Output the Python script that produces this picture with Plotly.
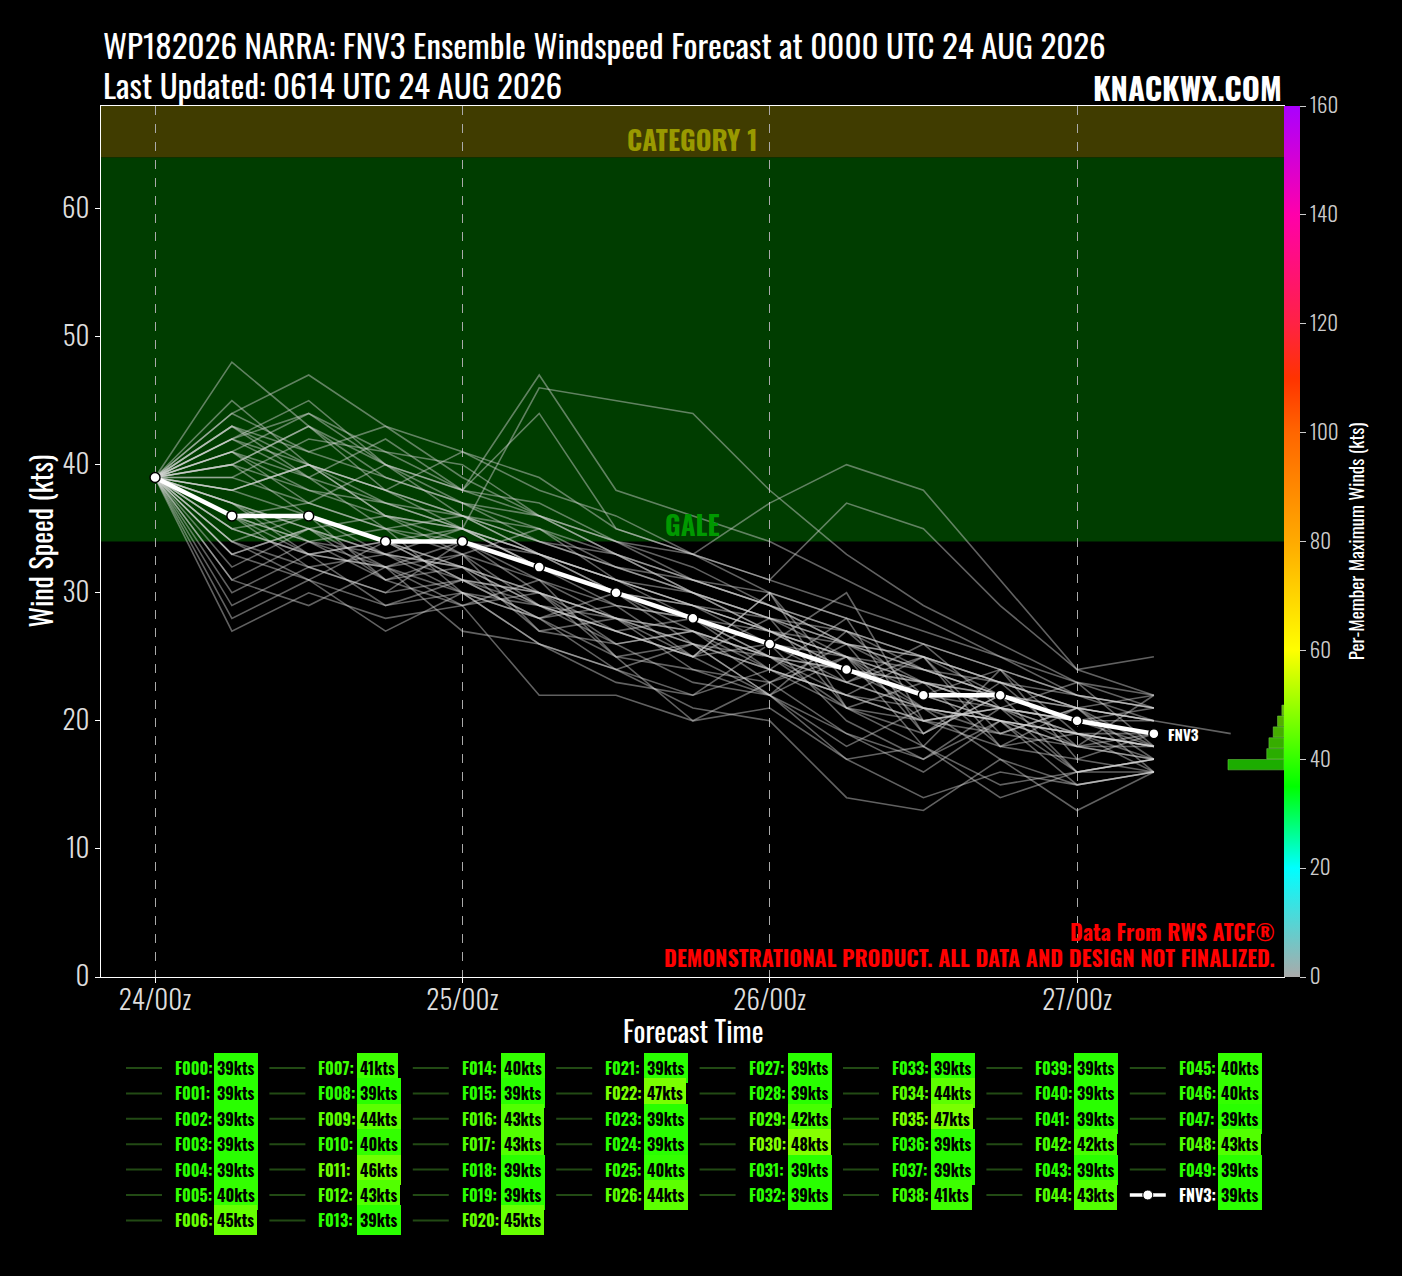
import numpy as np
import plotly.graph_objects as go

# ensemble veri (kts), 6 saatlik adimlar
forecast_hours = [0, 6, 12, 18, 24, 30, 36, 42, 48, 54, 60, 66, 72, 78, 84]
hour_ticks = [0, 24, 48, 72]
hour_labels = ["24/00z", "25/00z", "26/00z", "27/00z"]

fnv3_winds = [39, 36, 36, 34, 34, 32, 30, 28, 26, 24, 22, 22, 20, 19]

member_winds = [
    [39, 35, 33, 34, 31, 29, 27, 28, 24, 22, 20, 21, 18, 17],
    [39, 33, 35, 31, 32, 30, 26, 27, 25, 21, 19, 22, 20, 18],
    [39, 37, 34, 35, 30, 28, 29, 25, 30, 23, 25, 19, 21, 16],
    [39, 31, 34, 32, 33, 27, 28, 24, 23, 25, 20, 18, 17, 19],
    [39, 36, 32, 30, 34, 31, 25, 26, 22, 27, 22, 24, 19, 18],
    [39, 40, 36, 34, 35, 33, 30, 29, 27, 24, 23, 21, 20, 19],
    [39, 45, 40, 38, 36, 34, 32, 30, 28, 26, 25, 23, 21, 20],
    [39, 41, 38, 36, 33, 35, 31, 28, 27, 25, 24, 22, 21, 22],
    [39, 29, 32, 30, 31, 28, 24, 26, 22, 17, 18, 14, 16, 17],
    [39, 44, 41, 43, 39, 36, 34, 31, 29, 26, 24, 22, 20, 19],
    [39, 38, 40, 36, 35, 32, 30, 29, 26, 25, 21, 20, 19, 18],
    [39, 42, 39, 37, 35, 46, 45, 44, 38, 33, 29, 26, 23, 21],
    [39, 43, 39, 35, 36, 33, 31, 29, 28, 25, 22, 21, 20, 21],
    [39, 34, 31, 29, 30, 26, 24, 22, 26, 20, 17, 21, 16, 16],
    [39, 38, 40, 37, 36, 33, 31, 30, 27, 24, 23, 21, 19, 18],
    [39, 36, 34, 33, 32, 29, 27, 25, 30, 21, 20, 19, 21, 17],
    [39, 43, 41, 39, 37, 34, 33, 30, 28, 27, 24, 23, 21, 20],
    [39, 40, 43, 38, 36, 35, 32, 31, 29, 26, 25, 22, 20, 19],
    [39, 32, 35, 33, 31, 28, 30, 26, 24, 28, 19, 23, 18, 22],
    [39, 37, 33, 32, 34, 30, 28, 27, 25, 23, 21, 19, 18, 18],
    [39, 42, 45, 40, 38, 36, 33, 30, 28, 26, 24, 22, 21, 20],
    [39, 33, 31, 34, 32, 27, 26, 23, 22, 18, 21, 17, 15, 16],
    [39, 44, 47, 43, 41, 38, 36, 33, 31, 29, 27, 25, 23, 22],
    [39, 35, 36, 31, 29, 31, 28, 27, 24, 22, 21, 20, 19, 18],
    [39, 30, 33, 29, 31, 30, 25, 20, 23, 19, 16, 20, 16, 17],
    [39, 39, 37, 40, 36, 34, 32, 30, 27, 25, 23, 21, 20, 19],
    [39, 41, 44, 41, 38, 37, 34, 33, 30, 28, 26, 24, 22, 21],
    [39, 36, 37, 35, 33, 31, 29, 28, 26, 30, 20, 21, 23, 18],
    [39, 34, 36, 33, 35, 32, 30, 27, 25, 24, 21, 20, 19, 19],
    [39, 42, 40, 38, 35, 33, 31, 29, 27, 26, 23, 22, 20, 19],
    [39, 48, 43, 40, 37, 35, 33, 31, 29, 27, 25, 23, 21, 20],
    [39, 28, 31, 27, 30, 26, 23, 22, 24, 21, 18, 15, 16, 17],
    [39, 33, 35, 32, 29, 30, 27, 25, 22, 25, 18, 24, 17, 16],
    [39, 37, 35, 36, 34, 32, 29, 28, 25, 23, 21, 20, 18, 17],
    [39, 41, 39, 42, 38, 44, 35, 33, 37, 40, 38, 31, 24, 22],
    [39, 42, 44, 40, 38, 47, 38, 36, 34, 31, 28, 25, 22, 20],
    [39, 35, 33, 34, 32, 29, 28, 26, 24, 22, 25, 18, 21, 18],
    [39, 31, 29, 32, 27, 26, 24, 21, 20, 14, 13, 17, 13, 16],
    [39, 41, 37, 35, 34, 33, 30, 28, 26, 24, 22, 20, 18, 19],
    [39, 38, 36, 34, 31, 30, 28, 25, 26, 23, 26, 21, 19, 17],
    [39, 36, 34, 31, 33, 29, 26, 27, 23, 26, 19, 22, 16, 17],
    [39, 27, 30, 28, 29, 22, 22, 20, 21, 17, 14, 16, 15, 16],
    [39, 39, 42, 41, 40, 36, 34, 32, 29, 27, 25, 23, 22, 21],
    [39, 34, 32, 33, 30, 28, 25, 24, 22, 19, 17, 20, 15, 16],
    [39, 40, 43, 39, 37, 36, 33, 31, 30, 28, 26, 24, 22, 21],
    [39, 38, 40, 36, 35, 32, 30, 28, 25, 24, 22, 20, 19, 18],
    [39, 40, 38, 37, 35, 33, 31, 29, 27, 25, 23, 22, 20, 19],
    [39, 37, 35, 33, 32, 30, 28, 26, 25, 22, 20, 21, 20, 20, 19],
    [39, 43, 40, 38, 41, 39, 35, 33, 31, 37, 35, 29, 24, 25],
    [39, 36, 33, 32, 30, 29, 27, 25, 28, 21, 23, 18, 19, 16],
]
member_names = ["F%03d" % i for i in range(len(member_winds))]

# renk skalasi (kts -> renk)
cmap_stops = [(0, "#aaaaaa"), (20, "#00ffff"), (35, "#00ff00"), (60, "#ffff00"),
              (80, "#ffaa00"), (100, "#ff6600"), (110, "#ff3300"), (120, "#ff2244"),
              (140, "#ff00aa"), (160, "#aa00ff")]

FONT = "Oswald, Roboto Condensed, Noto Sans Condensed, Liberation Sans Narrow, Roboto, sans-serif"
W, H = 1402, 1276
L, R, T, B = 101, 1284, 106, 977


def _rgb(h):
    return [int(h[i:i + 2], 16) for i in (1, 3, 5)]


def wind_color(v, scale=1.0):
    for (a, ca), (b, cb) in zip(cmap_stops[:-1], cmap_stops[1:]):
        if a <= v <= b:
            f = (v - a) / (b - a)
            c = [(1 - f) * x + f * y for x, y in zip(_rgb(ca), _rgb(cb))]
            c = [int(round(min(255, x * scale))) for x in c]
            return "rgb(%d,%d,%d)" % tuple(c)
    return cmap_stops[-1][1]


def px_x(p):
    return (p - L) / (R - L)


def px_y(p):
    return (B - p) / (B - T)


member_max = [max(m) for m in member_winds]

fig = go.Figure()

for name, winds in zip(member_names, member_winds):
    fig.add_trace(go.Scatter(x=forecast_hours[:len(winds)], y=winds, mode="lines",
                             name=name, line=dict(color="rgba(215,215,215,0.45)", width=1.6),
                             hoverinfo="skip"))

fig.add_trace(go.Scatter(x=forecast_hours[:len(fnv3_winds)], y=fnv3_winds, mode="lines+markers",
                         name="FNV3", line=dict(color="white", width=4.5),
                         marker=dict(color="white", size=10, line=dict(color="black", width=1.5))))

# maksimum ruzgar histogrami (renk skalasi ekseninde)
counts, edges = np.histogram(member_max, bins=np.arange(0, 162, 2))
centers = (edges[:-1] + edges[1:]) / 2
keep = counts > 0
fig.add_trace(go.Bar(x=counts[keep], y=centers[keep], orientation="h", width=1.9,
                     xaxis="x2", yaxis="y2",
                     marker=dict(color=[wind_color(c, 0.68) for c in centers[keep]],
                                 line=dict(color="rgba(120,220,80,0.6)", width=0.8))))

# renk cubugu
fig.add_trace(go.Scatter(x=[None], y=[None], mode="markers", hoverinfo="skip",
                         marker=dict(color=[0], cmin=0, cmax=160, showscale=True,
                                     colorscale=[[v / 160, c] for v, c in cmap_stops],
                                     colorbar=dict(x=1.0, xanchor="left", xpad=0, y=0.5, yanchor="middle",
                                                   ypad=0, len=1, lenmode="fraction", thickness=16,
                                                   outlinewidth=0, ticks="outside", ticklen=6,
                                                   tickcolor="#cccccc", tickvals=list(range(0, 161, 20)),
                                                   tickfont=dict(family=FONT, size=21, color="#cccccc", weight=300),
                                                   title=dict(text="Per-Member Maximum Winds (kts)", side="right",
                                                              font=dict(family=FONT, size=19, color="white"))))))

shapes = [
    dict(type="rect", xref="paper", yref="y", x0=0, x1=1, y0=34, y1=64,
         fillcolor="#003d00", line=dict(width=0), layer="below"),
    dict(type="rect", xref="paper", yref="y", x0=0, x1=1, y0=64, y1=68,
         fillcolor="#403c00", line=dict(width=0), layer="below"),
]


def note(text, x, y, size, color, bold=False, xanchor="center", **kw):
    return dict(text=text, x=x, y=y, xref="paper", yref="paper", xanchor=xanchor, yanchor="middle",
                showarrow=False, font=dict(family=FONT, size=size, color=color,
                                           weight="bold" if bold else "normal"), **kw)


annotations = [
    dict(text="CATEGORY 1", x=0.5, y=64, xref="paper", yref="y", yanchor="bottom", yshift=-4, showarrow=False,
         font=dict(family=FONT, size=27, color="#999900", weight="bold")),
    dict(text="GALE", x=0.5, y=34, xref="paper", yref="y", yanchor="bottom", yshift=-4, showarrow=False,
         font=dict(family=FONT, size=27, color="#009900", weight="bold")),
    dict(text="FNV3", x=forecast_hours[len(fnv3_winds) - 1], y=fnv3_winds[-1], xshift=12, xanchor="left",
         yanchor="middle", showarrow=False, font=dict(family=FONT, size=15, color="white", weight="bold")),
    note("Data From RWS ATCF®", px_x(1277), px_y(931), 22, "#ff0000", True, "right"),
    note("DEMONSTRATIONAL PRODUCT. ALL DATA AND DESIGN NOT FINALIZED.", px_x(1277), px_y(957),
         22, "#ff0000", True, "right"),
    note("WP182026 NARRA: FNV3 Ensemble Windspeed Forecast at 0000 UTC 24 AUG 2026", 0, px_y(45),
         33, "white", False, "left"),
    note("Last Updated: 0614 UTC 24 AUG 2026", 0, px_y(85), 33, "white", False, "left"),
    note("KNACKWX.COM", 1, px_y(87), 31, "white", True, "right"),
    note("Forecast Time", 0.5, px_y(1030), 28, "white"),
    note("Wind Speed (kts)", px_x(40), 0.5, 28, "white", textangle=-90),
]

# alt kisimdaki lejant (8 sutun)
col_sizes = [7, 7, 7, 6, 6, 6, 6, 6]
entries = list(zip(member_names, member_max)) + [("FNV3", max(fnv3_winds))]
k = 0
for c, n in enumerate(col_sizes):
    for r in range(n):
        name, mx = entries[k]
        k += 1
        x0 = 126 + c * 143.4
        yc = 1068 + r * 25.4
        col = wind_color(mx)
        if name == "FNV3":
            shapes.append(dict(type="line", xref="paper", yref="paper", x0=px_x(x0), x1=px_x(x0 + 36),
                               y0=px_y(yc), y1=px_y(yc), line=dict(color="white", width=3.5)))
            shapes.append(dict(type="circle", xref="paper", yref="paper", x0=px_x(x0 + 13), x1=px_x(x0 + 23),
                               y0=px_y(yc + 5), y1=px_y(yc - 5), fillcolor="white",
                               line=dict(color="black", width=1)))
            lab_col = "white"
        else:
            shapes.append(dict(type="line", xref="paper", yref="paper", x0=px_x(x0), x1=px_x(x0 + 36),
                               y0=px_y(yc), y1=px_y(yc), line=dict(color="#224a14", width=2)))
            lab_col = col
        annotations.append(note(name + ":", px_x(x0 + 47), px_y(yc), 16, lab_col, True, "left"))
        annotations.append(note("%dkts" % mx, px_x(x0 + 88), px_y(yc), 16, "black", True, "left",
                                bgcolor=col, bordercolor=col, borderpad=2))

fig.update_layout(
    width=W, height=H,
    margin=dict(l=L, r=W - R, t=T, b=H - B),
    paper_bgcolor="black", plot_bgcolor="black",
    showlegend=False,
    shapes=shapes, annotations=annotations,
    xaxis=dict(range=[-4.22, 88.16], tickvals=hour_ticks, ticktext=hour_labels,
               showgrid=True, gridcolor="#aaaaaa", gridwidth=0.8, griddash="dash",
               zeroline=False, showline=True, linecolor="white", linewidth=1.2, mirror=True,
               ticks="outside", ticklen=5, tickcolor="white", ticklabelstandoff=-6,
               tickfont=dict(family=FONT, size=27, color="#dddddd", weight=300)),
    yaxis=dict(range=[0, 68], tickvals=list(range(0, 61, 10)), showgrid=False, zeroline=False,
               showline=True, linecolor="white", linewidth=1.2, mirror=True,
               ticks="outside", ticklen=5, tickcolor="white",
               tickfont=dict(family=FONT, size=27, color="#dddddd", weight=300)),
    xaxis2=dict(overlaying="x", range=[549, 0], visible=False),
    yaxis2=dict(overlaying="y", range=[0, 160], visible=False),
)

fig.write_html("out.html", config={"displayModeBar": False},
               post_script="document.body.style.margin='0';document.body.style.background='black';")
